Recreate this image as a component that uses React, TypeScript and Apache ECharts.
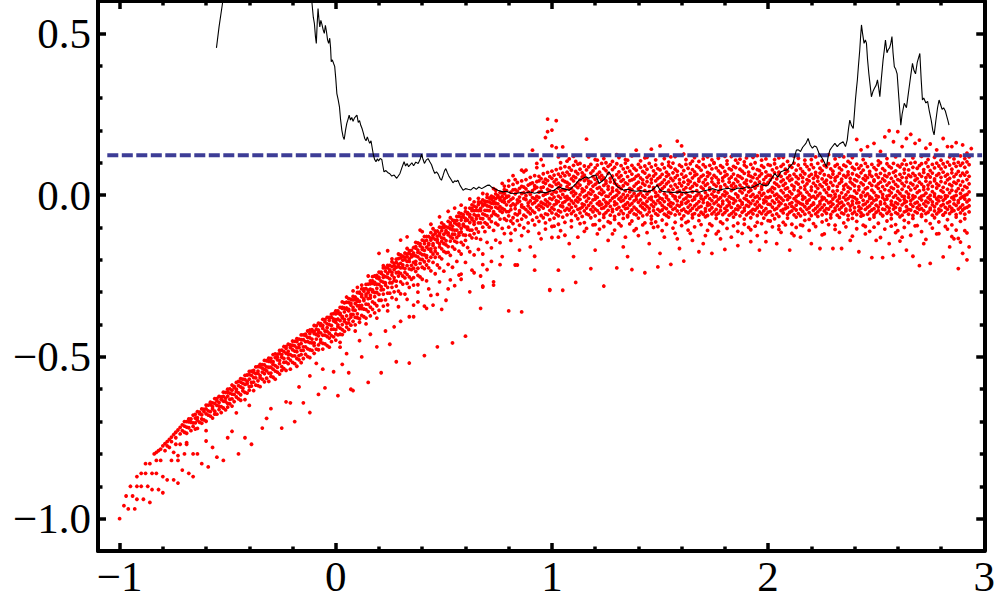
import React, { useEffect, useRef } from "react";
import * as echarts from "echarts";

// ---------- axis tick values ----------
const xMajorTicks = [-1, 0, 1, 2, 3];
const xMinorTicks = [-0.8, -0.6, -0.4, -0.2, 0.2, 0.4, 0.6, 0.8, 1.2, 1.4, 1.6, 1.8, 2.2, 2.4, 2.6, 2.8];
const yMajorTicks = [-1, -0.5, 0, 0.5];
const yMinorTicks = [-0.9, -0.8, -0.7, -0.6, -0.4, -0.3, -0.2, -0.1, 0.1, 0.2, 0.3, 0.4];

// ---------- reference level (dashed line) ----------
const refLevelX = [-1.057, 2.99];
const refLevelY = 0.123;

// ---------- red scatter ----------
// Columns: first entry = x * 100, following entries = y * 1000
const armColumns: number[][] = [
  [-70, -700, -714, -733], [-69, -700, -717, -736, -765], [-68, -692, -701, -719], [-67, -692, -702, -728],
  [-66, -680, -704, -715], [-65, -678, -689, -704, -723], [-64, -669, -688, -696, -721], [-63, -671, -676, -702],
  [-62, -661, -679, -692, -705], [-61, -662, -669, -695], [-60, -649, -661, -676, -699, -728], [-59, -649, -667, -680],
  [-58, -640, -648, -669, -683], [-57, -642, -654, -661, -689], [-56, -629, -644, -668, -677], [-55, -629, -636, -650, -677],
  [-54, -622, -641, -652, -663], [-53, -624, -631, -654, -672], [-52, -609, -622, -637, -658], [-51, -610, -628, -638, -664],
  [-50, -600, -609, -621, -644, -655], [-49, -599, -612, -631, -645], [-48, -587, -603, -615, -630, -652], [-47, -591, -595, -616, -638],
  [-46, -579, -600, -607, -624, -673], [-45, -576, -589, -611, -630], [-44, -567, -578, -593, -617, -634], [-43, -569, -582, -597, -605],
  [-42, -557, -570, -585, -610, -632], [-41, -556, -576, -583, -612], [-40, -545, -555, -569, -592, -603, -650], [-39, -544, -557, -579, -590],
  [-38, -542, -548, -564, -578, -604], [-37, -531, -552, -565, -587], [-36, -530, -544, -551, -574, -589], [-35, -523, -531, -558, -565, -592],
  [-34, -524, -535, -547, -569], [-33, -511, -525, -539, -552, -577], [-32, -512, -531, -543, -566], [-31, -504, -514, -532, -550, -576],
  [-30, -505, -515, -532, -550, -560], [-29, -493, -515, -523, -538, -563], [-28, -491, -502, -527, -544, -569], [-27, -492, -501, -509, -532, -547],
  [-26, -480, -490, -511, -521, -553], [-25, -479, -493, -501, -530, -542], [-24, -468, -484, -505, -517, -536], [-23, -468, -474, -489, -516, -542],
  [-22, -461, -483, -492, -504, -521], [-21, -463, -471, -493, -510, -538], [-20, -451, -464, -478, -497, -517], [-19, -452, -466, -482, -497, -521],
  [-18, -444, -453, -472, -484, -505, -529], [-17, -445, -462, -471, -496, -509], [-16, -432, -447, -459, -480, -493, -518], [-15, -432, -447, -469, -480, -505],
  [-14, -430, -434, -453, -469, -492], [-13, -420, -440, -453, -475, -499], [-12, -417, -428, -441, -456, -478, -502], [-11, -416, -420, -445, -457, -480],
  [-10, -403, -422, -428, -457, -465, -489], [-9, -404, -415, -431, -445, -476], [-8, -396, -417, -424, -435, -463, -478], [-7, -397, -403, -426, -447, -455],
  [-6, -384, -403, -412, -433, -458, -476], [-5, -385, -392, -420, -433, -460], [-4, -378, -398, -410, -421, -437, -465], [-3, -378, -387, -400, -427, -442],
  [-2, -368, -378, -403, -415, -434, -453], [-1, -366, -383, -389, -414, -438],
];

const riseColumns: number[][] = [
  [0, -358, -367, -385, -393, -416, -429, -448], [1, -358, -365, -383, -401, -407, -432], [2, -347, -365, -369, -388, -411, -430],
  [3, -347, -350, -375, -379, -400, -416, -431], [4, -333, -349, -361, -384, -390, -421], [5, -331, -349, -352, -373, -396, -408],
  [6, -320, -332, -353, -358, -384, -395, -415], [7, -322, -334, -340, -369, -377, -402], [8, -313, -324, -347, -355, -369, -390],
  [9, -315, -323, -335, -356, -378, -401], [10, -301, -322, -328, -342, -367, -379], [11, -300, -303, -328, -342, -351, -382, -393],
  [12, -290, -308, -314, -341, -351, -372], [13, -290, -297, -321, -326, -352, -376], [14, -276, -289, -306, -312, -337, -354, -380],
  [15, -275, -294, -301, -320, -338, -360], [16, -265, -274, -291, -310, -318, -346, -373], [17, -265, -273, -293, -299, -330, -353],
  [18, -250, -270, -275, -301, -314, -335, -364], [19, -248, -256, -275, -288, -301, -342], [20, -238, -254, -259, -276, -307, -325, -356],
  [21, -238, -242, -266, -283, -293, -325], [22, -225, -248, -254, -269, -292, -306, -343], [23, -225, -235, -252, -271, -278, -324],
  [24, -217, -225, -242, -254, -285, -303, -339], [25, -217, -231, -235, -259, -271, -303], [26, -206, -221, -239, -247, -271, -285, -317],
  [27, -211, -219, -230, -255, -264, -299], [28, -198, -208, -223, -240, -266, -281, -322], [29, -196, -214, -221, -238, -250, -297],
  [30, -185, -194, -211, -225, -242, -268, -305], [31, -189, -201, -216, -224, -250, -275], [32, -179, -192, -199, -227, -239, -256, -306],
  [33, -182, -190, -205, -218, -245, -273], [34, -172, -180, -197, -205, -228, -253, -285], [35, -171, -185, -191, -217, -230, -260],
  [36, -162, -179, -187, -208, -226, -255, -278], [37, -159, -164, -188, -205, -214, -236], [38, -148, -170, -177, -191, -226, -248, -277],
  [39, -150, -157, -179, -198, -211, -253], [40, -139, -162, -168, -184, -199, -223, -260], [41, -142, -150, -171, -185, -206, -227],
  [42, -128, -140, -161, -187, -193, -216, -265], [43, -128, -149, -154, -167, -203, -225], [44, -116, -133, -139, -166, -174, -192, -234],
  [45, -124, -132, -150, -156, -182, -208], [46, -111, -119, -137, -164, -173, -192, -243], [47, -111, -127, -138, -145, -181, -216],
  [48, -99, -118, -125, -151, -160, -191, -225], [49, -100, -110, -132, -143, -166, -197], [50, -92, -100, -121, -134, -150, -174, -235],
  [51, -98, -110, -115, -141, -154, -178], [52, -81, -100, -117, -123, -159, -177, -214], [53, -86, -92, -104, -129, -142, -186],
  [54, -77, -96, -107, -121, -133, -160, -223], [55, -79, -86, -108, -121, -142, -167], [56, -66, -78, -90, -108, -131, -146, -205],
  [57, -66, -89, -95, -117, -124, -173], [58, -57, -68, -77, -103, -114, -146, -182], [59, -60, -68, -90, -95, -123, -154],
  [60, -51, -72, -79, -98, -124, -140, -208], [61, -54, -58, -77, -99, -106, -162], [62, -40, -60, -67, -85, -108, -124, -175],
  [63, -42, -48, -71, -76, -108, -132], [64, -34, -48, -60, -82, -90, -119, -185], [65, -37, -47, -64, -73, -104, -133],
  [66, -21, -29, -48, -63, -86, -114, -168], [67, -22, -41, -48, -72, -86, -137], [68, -15, -27, -33, -58, -73, -99, -182],
  [69, -19, -29, -47, -61, -85, -113], [70, -7, -20, -33, -47, -64, -90, -146], [71, -9, -21, -35, -48, -73, -99],
  [72, -3, -12, -25, -39, -64, -82, -163], [73, -6, -19, -26, -51, -56, -109], [74, 4, -11, -25, -37, -60, -87, -139],
  [75, -2, -6, -27, -41, -64, -92], [76, 8, -9, -15, -36, -49, -74, -147], [77, 7, -4, -19, -41, -53, -103],
  [78, 17, 5, -12, -22, -45, -73, -119], [79, 14, -3, -7, -30, -51, -78],
];

const plateauColumns: number[][] = [
  [80, 28, -3, -20, -51, -64, -99], [81, 9, -14, -33, -45, -80, -118], [82, 33, 16, -9, -27, -70, -88], [83, 17, 4, -31, -42, -58, -107],
  [84, 39, 12, -15, -24, -61, -79], [85, 21, -6, -19, -48, -55, -93], [86, 44, 27, 5, -30, -36, -74], [87, 25, 8, -11, -39, -62, -101],
  [88, 48, 19, -2, -14, -45, -67], [89, 31, 10, -24, -33, -52, -86], [90, 55, 35, 2, -18, -41, -58], [91, 38, 14, -8, -27, -49, -77],
  [92, 60, 29, 20, -11, -23, -54, -92], [93, 42, 24, -4, -16, -37, -69], [94, 58, 44, 9, -7, -31, -45, -81], [95, 51, 23, 12, -22, -35, -63],
  [96, 66, 40, 25, -1, -26, -40, -70], [97, 49, 36, 3, -15, -29, -58, -86], [98, 70, 45, 18, 6, -21, -34, -60], [99, 57, 30, 14, -10, -27, -47, -76],
  [100, 74, 52, 27, 3, -13, -39, -55, -97], [101, 62, 41, 11, -6, -30, -44, -71], [102, 79, 48, 33, 9, -17, -26, -59], [103, 65, 37, 22, -3, -20, -48, -64, -90],
  [104, 83, 57, 30, 13, -9, -33, -52], [105, 68, 46, 17, 2, -24, -36, -68], [106, 88, 60, 42, 15, -6, -20, -47, -84], [107, 71, 39, 26, -4, -14, -41, -61],
  [108, 85, 63, 34, 19, -11, -29, -46], [109, 77, 50, 21, 8, -18, -38, -57, -79], [110, 92, 58, 44, 12, -2, -25, -50], [111, 73, 54, 29, 5, -16, -34, -63],
  [112, 96, 66, 38, 23, -8, -21, -44, -73], [113, 80, 47, 31, 1, -13, -42, -55], [114, 69, 56, 19, 10, -27, -37, -66], [115, 90, 62, 45, 14, -5, -30, -49, -85],
  [116, 78, 51, 25, -1, -19, -40, -58], [117, 87, 43, 35, 7, -10, -32, -61], [118, 95, 68, 40, 17, 3, -24, -45, -70], [119, 75, 57, 28, 11, -15, -36, -52],
  [120, 84, 49, 33, -2, -12, -43, -64, -91], [121, 93, 64, 39, 21, -7, -26, -48], [122, 71, 55, 24, 6, -20, -31, -56, -78], [123, 98, 61, 47, 16, 2, -28, -41],
  [124, 82, 53, 30, 9, -14, -39, -60, -69], [125, 76, 44, 36, -3, -22, -33, -54], [126, 89, 67, 27, 18, -4, -25, -47, -82], [127, 94, 52, 41, 4, -17, -35, -62],
  [128, 79, 59, 22, 12, -9, -44, -51], [129, 86, 46, 37, -5, -21, -30, -66, -75], [130, 97, 63, 32, 15, 0, -27, -43], [131, 72, 54, 26, 8, -12, -38, -59, -88],
  [132, 91, 60, 43, 20, -6, -19, -49], [133, 81, 48, 29, 2, -16, -34, -57, -72], [134, 99, 70, 38, 13, -8, -29, -42], [135, 85, 57, 34, -1, -23, -40, -63, -67],
  [136, 74, 45, 21, 10, -11, -31, -53], [137, 92, 65, 47, 17, -3, -26, -46, -80], [138, 83, 50, 28, 5, -18, -37, -58], [139, 77, 58, 35, -4, -13, -43, -61],
  [140, 95, 62, 40, 19, 1, -22, -50, -71], [141, 86, 53, 24, 7, -15, -33, -55], [142, 73, 47, 36, -2, -25, -39, -64], [143, 90, 68, 31, 14, -7, -28, -45, -86],
  [144, 80, 55, 42, 3, -19, -35, -60], [145, 98, 61, 27, 11, -10, -41, -52], [146, 87, 49, 38, -6, -14, -30, -65, -74], [147, 75, 59, 23, 16, -21, -36, -48],
  [148, 93, 66, 44, 8, -4, -27, -57, -83], [149, 82, 51, 30, -1, -17, -44, -62], [150, 78, 56, 33, 12, -9, -24, -50], [151, 96, 64, 39, 20, -12, -32, -46, -77],
  [152, 84, 47, 26, 4, -20, -38, -59], [153, 71, 58, 35, -3, -8, -42, -63], [154, 91, 63, 41, 15, -15, -29, -53, -68], [155, 86, 52, 28, 6, -23, -35, -56],
  [156, 99, 69, 45, 18, -2, -26, -44], [157, 80, 54, 32, -5, -11, -40, -61, -84], [158, 74, 61, 24, 9, -18, -31, -49], [159, 93, 48, 37, 13, -6, -34, -58],
  [160, 88, 65, 29, 2, -22, -28, -47, -73], [161, 76, 55, 40, 17, -13, -43, -64], [162, 95, 59, 23, 7, -9, -25, -51], [163, 83, 46, 34, -2, -19, -37, -55, -81],
  [164, 97, 67, 42, 21, -4, -30, -48], [165, 79, 53, 27, 10, -16, -41, -60, -70], [166, 72, 60, 36, -6, -12, -33, -57], [167, 90, 64, 31, 14, -1, -27, -45],
  [168, 85, 50, 43, 5, -20, -38, -62, -79], [169, 77, 57, 25, -3, -10, -35, -53], [170, 94, 62, 39, 19, -14, -23, -59], [171, 87, 48, 30, 8, -7, -42, -50, -67],
  [172, 70, 58, 35, -1, -24, -32, -63], [173, 92, 66, 22, 16, -11, -29, -46, -89], [174, 81, 52, 41, 3, -17, -39, -58], [175, 98, 61, 33, 12, -5, -26, -52],
  [176, 84, 55, 28, -4, -21, -44, -61, -72], [177, 75, 47, 38, 9, -13, -31, -56], [178, 91, 68, 26, 18, -8, -36, -48, -83], [179, 86, 53, 44, 1, -19, -27, -60],
  [180, 73, 59, 32, 11, -2, -41, -54], [181, 96, 63, 24, 6, -15, -34, -47, -76], [182, 82, 50, 40, -5, -22, -30, -62], [183, 78, 56, 29, 14, -9, -38, -57],
  [184, 89, 65, 36, 20, -12, -25, -51, -68], [185, 85, 49, 27, 4, -18, -43, -59], [186, 99, 60, 42, -2, -6, -33, -45, -87], [187, 80, 57, 31, 13, -16, -37, -64],
  [188, 74, 52, 23, 7, -23, -28, -53], [189, 93, 67, 38, 17, -10, -40, -48, -74], [190, 87, 46, 34, -1, -14, -32, -61], [191, 71, 61, 25, 10, -20, -35, -55],
  [192, 95, 58, 43, 15, -4, -26, -50, -70], [193, 83, 54, 28, 2, -17, -44, -58], [194, 100, 64, 37, 22, -7, -29, -46], [195, 79, 51, 30, -3, -21, -39, -63, -84],
  [196, 76, 59, 41, 8, -11, -31, -52], [197, 91, 66, 26, 18, -1, -37, -57], [198, 86, 48, 35, 5, -15, -24, -49, -71], [199, 72, 56, 32, -6, -19, -42, -60],
  [200, 94, 62, 39, 12, -8, -28, -53, -79],
];

const tailColumns: number[][] = [
  [201, 92, 61, 47, 16, -5, -29, -51, -80], [202, 78, 55, 24, 9, -18, -37, -62], [203, 97, 69, 38, 20, -1, -24, -45, -73], [204, 84, 50, 33, 3, -12, -41, -58],
  [205, 71, 63, 27, -4, -21, -33, -66, -95], [206, 89, 58, 42, 14, -9, -26, -48], [207, 95, 47, 30, 7, -16, -44, -55, -84], [208, 80, 67, 36, 19, -3, -30, -42],
  [209, 74, 53, 22, -2, -14, -38, -60, -71], [210, 91, 60, 45, 11, -7, -27, -53], [211, 86, 49, 31, 4, -23, -35, -49, -90], [212, 99, 65, 26, 17, -11, -40, -61],
  [213, 77, 57, 39, -5, -18, -31, -46, -68], [214, 93, 51, 34, 13, 0, -22, -57], [215, 82, 62, 23, 6, -26, -43, -64, -92], [216, 73, 54, 41, -3, -13, -29, -50],
  [217, 96, 66, 28, 18, -8, -36, -59, -78], [218, 88, 48, 35, 9, -19, -25, -44], [219, 79, 59, 44, 1, -15, -39, -54, -75], [220, 94, 64, 25, 15, -6, -32, -63],
  [221, 85, 52, 37, -4, -24, -28, -47, -88], [222, 70, 61, 29, 10, -10, -41, -58], [223, 98, 56, 43, 21, -2, -34, -52, -66], [224, 83, 68, 32, 5, -20, -27, -45],
  [225, 76, 50, 26, -6, -14, -38, -61, -83], [226, 92, 63, 40, 16, -9, -30, -49], [227, 87, 46, 34, 8, -17, -42, -56, -77], [228, 97, 60, 24, 19, -1, -24, -43],
  [229, 81, 55, 39, -2, -21, -35, -60, -70], [230, 74, 65, 30, 12, -12, -28, -51], [231, 90, 53, 45, 3, -5, -40, -47, -93], [232, 95, 58, 27, 14, -18, -33, -62],
  [233, 84, 67, 36, -3, -10, -25, -44, -69], [234, 78, 49, 42, 7, -22, -37, -55], [235, 93, 61, 28, 18, -7, -31, -58, -86], [236, 89, 56, 33, 1, -15, -43, -49],
  [237, 72, 63, 25, 10, -11, -26, -63, -76], [238, 99, 52, 41, 20, -4, -34, -46], [239, 86, 66, 35, -5, -19, -29, -57, -72], [240, 80, 48, 29, 13, -8, -39, -52],
  [241, 96, 62, 44, 6, -13, -24, -60, -81], [242, 83, 57, 26, 16, -23, -36, -48], [243, 91, 69, 38, -1, -6, -41, -55, -65], [244, 77, 51, 32, 9, -16, -30, -62],
  [245, 98, 60, 46, 19, -2, -27, -44, -97], [246, 88, 54, 23, 4, -20, -38, -59], [247, 73, 64, 37, -4, -11, -33, -51, -74], [248, 95, 58, 30, 15, -9, -25, -46],
  [249, 85, 47, 43, 8, -17, -42, -61, -68], [250, 79, 63, 28, -2, -14, -31, -53], [251, 93, 55, 35, 21, -5, -37, -48, -87], [252, 100, 67, 40, 11, -21, -28, -57],
  [253, 82, 50, 26, 2, -8, -43, -63, -64], [254, 76, 61, 44, 17, -15, -26, -45], [255, 97, 57, 31, -3, -12, -35, -56, -80], [256, 89, 66, 38, 14, -1, -40, -50],
  [257, 84, 52, 24, 7, -19, -29, -60, -73], [258, 98, 70, 42, 20, -6, -32, -43], [259, 75, 59, 33, -1, -23, -38, -54, -91], [260, 92, 48, 27, 12, -10, -27, -58],
  [261, 87, 64, 45, 5, -16, -41, -47, -67], [262, 96, 55, 36, 18, -3, -30, -62], [263, 80, 68, 29, -4, -13, -24, -52, -78], [264, 94, 53, 41, 10, -20, -36, -49],
  [265, 78, 62, 25, 3, -7, -44, -59, -85], [266, 99, 57, 37, 16, -17, -28, -46], [267, 86, 67, 32, -2, -11, -35, -63, -72], [268, 101, 60, 46, 21, -5, -25, -51],
  [269, 83, 51, 28, 8, -22, -39, -55, -94], [270, 91, 65, 40, 13, -9, -31, -44], [271, 97, 58, 34, -3, -15, -42, -60, -66], [272, 79, 70, 26, 17, -1, -27, -48],
  [273, 100, 54, 43, 6, -19, -34, -57, -79], [274, 88, 63, 31, 19, -8, -23, -53], [275, 76, 56, 39, -1, -13, -40, -45, -88], [276, 95, 68, 27, 11, -21, -30, -62],
  [277, 84, 50, 44, 4, -4, -36, -49, -70], [278, 99, 61, 35, 22, -12, -26, -58], [279, 90, 66, 30, -5, -18, -43, -52, -83], [280, 81, 55, 42, 14, -6, -33, -47],
  [281, 97, 71, 24, 9, -16, -29, -61, -62], [282, 87, 59, 38, -2, -10, -38, -54], [283, 102, 64, 47, 18, -3, -24, -44, -76], [284, 93, 52, 33, 7, -20, -35, -57],
  [285, 80, 69, 29, 15, -8, -41, -50, -92], [286, 98, 57, 40, -4, -14, -27, -48], [287, 89, 65, 36, 12, -1, -32, -60, -68], [288, 101, 73, 45, 20, -17, -23, -43],
  [289, 92, 60, 31, 5, -9, -37, -55, -81], [290, 99, 68, 42, 16, -5, -30, -46], [291, 86, 62, 27, -1, -12, -40, -59, -73], [292, 103, 71, 48, 23, 2, -21, -38],
  [293, 94, 58, 35, 10, -15, -33, -52],
];

// Individual points: [x * 100, y * 1000]
const armRowPoints: number[][] = [
  [-100, -1000], [-98, -960], [-96, -970], [-93, -970], [-97, -930], [-94, -930], [-92, -940], [-89, -940], [-86, -950],
  [-95, -900], [-92, -900], [-90, -900], [-87, -900], [-85, -910], [-82, -910], [-80, -920],
  [-92, -870], [-90, -860], [-88, -860], [-85, -860], [-83, -860], [-80, -870], [-78, -880], [-75, -880], [-73, -890],
  [-88, -830], [-86, -830], [-83, -820], [-81, -820], [-76, -820], [-73, -820], [-71, -850], [-68, -860], [-66, -870],
  [-84, -800], [-82, -790], [-79, -790], [-77, -780], [-74, -770], [-72, -770], [-69, -770], [-66, -800], [-64, -800], [-62, -830], [-59, -840],
  [-80, -775], [-79, -768], [-78, -762], [-77, -755], [-76, -748], [-75, -740], [-74, -733], [-73, -726], [-72, -718], [-71, -710],
  [-78, -775], [-76, -762], [-74, -750], [-72, -738], [-71, -728], [-75, -795], [-73, -805], [-70, -800], [-81, -785], [-83, -795],
];

const strayLower: number[][] = [
  [-60, -760], [-57, -780], [-55, -810], [-52, -820], [-50, -750], [-48, -730], [-45, -800], [-42, -750], [-39, -770], [-34, -720],
  [-32, -690], [-30, -660], [-25, -720], [-23, -639], [-21, -642], [-19, -700], [-17, -593], [-15, -642], [-12, -672], [-12, -559],
  [-8, -616], [-6, -538], [-5, -596], [-1, -546], [1, -620], [3, -523], [5, -490], [6, -549], [8, -604], [12, -500], [15, -579],
  [19, -469], [21, -549], [25, -461], [27, -407], [28, -515], [34, -519], [34, -376], [36, -376], [41, -496], [41, -343], [45, -340],
  [47, -469], [49, -353], [51, -325], [54, -457], [60, -436], [62, -299], [67, -350], [68, -284], [73, -268], [80, -358], [86, -361],
  [92, -232], [99, -294], [103, -232], [83, -216], [92, -189], [42, -350], [36, -340], [47, -307], [55, -280], [57, -247], [67, -250],
  [68, -281], [73, -278], [100, -131], [103, -130], [11, -450], [7, -600], [-3, -470], [-9, -520], [2, -470], [16, -430], [23, -420],
  [30, -390], [38, -330], [44, -310], [52, -290], [58, -260], [64, -240], [70, -230], [76, -215],
  [2, -455], [9, -420], [14, -398], [19, -380], [24, -358], [29, -345], [33, -322], [38, -300], [43, -290], [48, -268], [53, -262],
  [58, -244], [63, -232], [68, -215], [72, -205], [77, -190],
  [84, -216], [99, -292], [105, -294], [111, -270], [118, -227], [124, -281], [130, -225], [137, -230], [143, -240], [149, -222],
  [155, -214], [159, -165], [161, -204], [168, -175], [174, -180], [180, -168], [186, -156], [192, -144], [199, -144], [85, -170],
  [90, -160], [95, -135], [108, -150], [112, -130], [120, -170], [126, -140], [133, -160], [140, -125], [145, -150], [152, -130],
  [157, -118], [165, -140], [171, -125], [177, -112], [183, -130], [188, -118], [195, -125], [110, -190], [135, -190], [150, -180],
  [115, -112], [128, -120], [170, -150], [196, -170], [122, -105], [138, -110], [147, -100], [163, -108], [178, -135], [191, -100],
  [81, -140], [86, -125], [89, -112], [94, -118], [97, -105], [101, -96], [104, -110], [106, -124], [109, -98], [113, -88],
  [116, -103], [119, -92], [121, -120], [124, -97], [127, -86], [129, -108], [132, -95], [134, -130], [136, -89], [139, -104],
  [142, -92], [144, -116], [146, -87], [149, -97], [151, -110], [153, -90], [156, -102], [158, -135], [160, -94], [162, -85],
  [164, -118], [166, -98], [169, -91], [172, -109], [174, -94], [176, -120], [179, -88], [181, -103], [184, -95], [186, -112],
  [189, -90], [192, -107], [194, -96], [197, -88], [199, -115],
  [204, -150], [210, -170], [215, -130], [220, -150], [224, -165], [230, -165], [234, -165], [238, -140], [242, -175], [245, -120],
  [248, -193], [253, -193], [256, -150], [258, -186], [262, -130], [264, -170], [267, -189], [270, -218], [272, -150], [275, -211],
  [278, -120], [281, -191], [284, -160], [286, -135], [288, -227], [288, -134], [290, -180], [291, -110], [293, -160], [292, -200],
  [226, -120], [250, -140], [260, -110], [283, -105], [206, -115], [212, -125],
  [202, -98], [205, -106], [208, -92], [211, -118], [213, -100], [216, -94], [219, -109], [222, -97], [225, -123], [228, -91],
  [231, -106], [233, -115], [236, -98], [239, -127], [241, -104], [244, -93], [247, -112], [249, -99], [252, -131], [254, -105],
  [257, -96], [259, -116], [261, -142], [263, -100], [266, -124], [268, -95], [271, -113], [273, -137], [276, -102], [279, -119],
  [282, -97], [285, -128], [287, -108], [289, -145], [292, -117],
];

const strayUpper: number[][] = [
  [20, -180], [24, -172], [30, -139], [33, -129], [39, -108], [40, -113], [44, -90], [48, -67], [52, -50], [55, -40], [58, -31],
  [62, -12], [64, -21], [68, 5], [73, 20], [77, 36], [80, 45], [83, 48], [86, 77], [88, 77], [91, 139], [93, 98], [95, 110],
  [97, 178], [98, 196], [98, 235], [100, 201], [100, 152], [102, 230], [102, 147], [103, 118], [105, 149], [107, 105], [110, 120],
  [113, 98], [116, 173], [120, 110], [125, 100], [130, 125], [135, 108], [139, 139], [143, 115], [146, 142], [150, 152], [155, 118],
  [158, 167], [160, 152], [161, 127], [165, 105], [170, 112], [175, 100], [180, 120], [185, 108], [190, 115], [195, 122], [15, -250],
  [10, -285], [5, -315],
  [3, -330], [8, -296], [12, -278], [17, -252], [22, -218], [26, -197], [29, -182], [33, -165], [37, -146], [41, -128], [45, -104],
  [49, -86], [53, -70], [57, -55], [60, -40], [63, -30], [66, -10], [70, 2], [74, 15], [78, 28],
  [82, 60], [87, 72], [93, 85], [96, 92], [104, 100], [108, 112], [111, 104], [117, 118], [121, 108], [124, 113], [128, 104],
  [131, 116], [134, 110], [137, 121], [141, 106], [144, 117], [148, 109], [152, 113], [154, 102], [157, 119], [162, 110], [166, 116],
  [168, 104], [172, 118], [174, 109], [177, 114], [181, 106], [183, 119], [187, 111], [189, 103], [193, 117], [197, 108], [199, 112],
  [203, 110], [207, 117], [209, 104], [214, 114], [217, 108], [222, 118], [225, 106], [231, 112], [233, 120], [237, 104], [239, 116],
  [244, 110], [247, 121], [251, 106], [255, 113], [259, 118], [263, 108], [267, 115], [271, 120], [274, 110], [277, 117], [280, 108],
  [284, 118], [286, 112], [289, 121], [291, 113], [293, 118],
  [205, 115], [212, 120], [220, 110], [228, 125], [235, 118], [241, 172], [243, 140], [246, 150], [249, 160], [252, 135], [254, 180],
  [256, 199], [258, 165], [260, 196], [262, 150], [264, 175], [266, 188], [268, 160], [270, 170], [273, 145], [275, 158], [278, 140],
  [281, 175], [283, 150], [285, 150], [287, 162], [290, 155], [292, 130], [294, 144],
];

// ---------- black path ----------
const pathPoints: number[][] = [
  [-0.552, 0.455], [-0.54, 0.52], [-0.524, 0.593], [-0.5, 0.72], [-0.4, 0.85], [-0.25, 0.8], [-0.15, 0.7], [-0.115, 0.62],
  [-0.11, 0.593], [-0.104, 0.55], [-0.099, 0.531], [-0.094, 0.49], [-0.09, 0.469], [-0.086, 0.53], [-0.082, 0.577], [-0.078, 0.545],
  [-0.074, 0.52], [-0.069, 0.54], [-0.064, 0.528], [-0.058, 0.51], [-0.053, 0.5], [-0.048, 0.525], [-0.043, 0.505], [-0.038, 0.48],
  [-0.033, 0.469], [-0.028, 0.485], [-0.024, 0.455], [-0.021, 0.412], [-0.016, 0.418], [-0.01, 0.407], [-0.005, 0.398], [0.0, 0.36],
  [0.005, 0.314], [0.011, 0.295], [0.017, 0.273], [0.022, 0.235], [0.028, 0.201], [0.034, 0.18], [0.039, 0.172], [0.045, 0.2],
  [0.051, 0.222], [0.057, 0.235], [0.062, 0.247], [0.068, 0.232], [0.074, 0.24], [0.08, 0.228], [0.086, 0.238], [0.092, 0.243],
  [0.098, 0.247], [0.104, 0.225], [0.11, 0.23], [0.116, 0.215], [0.122, 0.205], [0.128, 0.191], [0.134, 0.175], [0.14, 0.168],
  [0.146, 0.18], [0.151, 0.17], [0.157, 0.16], [0.163, 0.168], [0.168, 0.148], [0.174, 0.124], [0.18, 0.11], [0.186, 0.103],
  [0.192, 0.112], [0.198, 0.106], [0.205, 0.113], [0.213, 0.11], [0.218, 0.09], [0.223, 0.072], [0.232, 0.076], [0.24, 0.07],
  [0.25, 0.066], [0.259, 0.059], [0.27, 0.062], [0.282, 0.052], [0.29, 0.06], [0.297, 0.067], [0.306, 0.085], [0.316, 0.103],
  [0.323, 0.09], [0.33, 0.098], [0.337, 0.088], [0.343, 0.093], [0.352, 0.1], [0.36, 0.091], [0.37, 0.102], [0.381, 0.098],
  [0.39, 0.11], [0.397, 0.127], [0.404, 0.11], [0.41, 0.098], [0.418, 0.108], [0.427, 0.113], [0.435, 0.103], [0.443, 0.094],
  [0.45, 0.08], [0.458, 0.067], [0.466, 0.072], [0.474, 0.065], [0.482, 0.052], [0.489, 0.046], [0.496, 0.06], [0.503, 0.075],
  [0.509, 0.082], [0.516, 0.07], [0.524, 0.058], [0.532, 0.05], [0.542, 0.038], [0.55, 0.044], [0.558, 0.042], [0.565, 0.046],
  [0.575, 0.03], [0.589, 0.015], [0.6, 0.02], [0.612, 0.018], [0.625, 0.016], [0.638, 0.024], [0.65, 0.018], [0.662, 0.025],
  [0.675, 0.02], [0.69, 0.026], [0.7, 0.03], [0.711, 0.031], [0.722, 0.024], [0.735, 0.02], [0.75, 0.015], [0.773, 0.01],
  [0.79, 0.012], [0.81, 0.006], [0.834, 0.005], [0.855, 0.008], [0.875, 0.006], [0.896, 0.01], [0.92, 0.006], [0.945, 0.01],
  [0.973, 0.007], [0.99, 0.012], [1.01, 0.015], [1.033, 0.026], [1.05, 0.02], [1.07, 0.017], [1.08, 0.015], [1.095, 0.025],
  [1.11, 0.035], [1.125, 0.046], [1.14, 0.05], [1.157, 0.057], [1.17, 0.052], [1.185, 0.058], [1.202, 0.062], [1.21, 0.05],
  [1.218, 0.036], [1.23, 0.042], [1.245, 0.05], [1.255, 0.062], [1.264, 0.072], [1.275, 0.06], [1.29, 0.04], [1.303, 0.026],
  [1.318, 0.02], [1.333, 0.015], [1.35, 0.018], [1.37, 0.014], [1.39, 0.012], [1.41, 0.014], [1.44, 0.01], [1.46, 0.014],
  [1.475, 0.022], [1.487, 0.031], [1.498, 0.018], [1.51, 0.012], [1.53, 0.01], [1.56, 0.008], [1.59, 0.01], [1.617, 0.007],
  [1.64, 0.01], [1.66, 0.012], [1.68, 0.009], [1.7, 0.013], [1.72, 0.016], [1.745, 0.02], [1.77, 0.014], [1.79, 0.018],
  [1.816, 0.021], [1.84, 0.016], [1.86, 0.022], [1.88, 0.02], [1.9, 0.026], [1.92, 0.022], [1.94, 0.028], [1.962, 0.036],
  [1.98, 0.03], [2.0, 0.031], [2.015, 0.05], [2.031, 0.067], [2.045, 0.055], [2.06, 0.072], [2.077, 0.077], [2.09, 0.078],
  [2.1, 0.088], [2.115, 0.098], [2.125, 0.125], [2.131, 0.139], [2.14, 0.14], [2.15, 0.135], [2.16, 0.148], [2.175, 0.16],
  [2.185, 0.175], [2.195, 0.155], [2.205, 0.145], [2.215, 0.152], [2.224, 0.149], [2.235, 0.13], [2.247, 0.118], [2.258, 0.105],
  [2.27, 0.088], [2.278, 0.12], [2.286, 0.139], [2.295, 0.148], [2.309, 0.16], [2.32, 0.15], [2.33, 0.158], [2.347, 0.165],
  [2.358, 0.15], [2.366, 0.17], [2.372, 0.205], [2.378, 0.232], [2.386, 0.215], [2.394, 0.206], [2.399, 0.25], [2.404, 0.294],
  [2.409, 0.33], [2.413, 0.356], [2.418, 0.4], [2.424, 0.448], [2.428, 0.49], [2.432, 0.526], [2.437, 0.5], [2.444, 0.469],
  [2.45, 0.48], [2.455, 0.47], [2.46, 0.42], [2.466, 0.376], [2.472, 0.34], [2.478, 0.304], [2.485, 0.32], [2.492, 0.33],
  [2.5, 0.34], [2.506, 0.356], [2.512, 0.33], [2.517, 0.304], [2.524, 0.36], [2.532, 0.418], [2.538, 0.45], [2.543, 0.479],
  [2.55, 0.44], [2.556, 0.45], [2.562, 0.455], [2.568, 0.47], [2.573, 0.49], [2.578, 0.44], [2.584, 0.397], [2.59, 0.39],
  [2.597, 0.375], [2.605, 0.3], [2.614, 0.216], [2.62, 0.25], [2.63, 0.284], [2.64, 0.27], [2.646, 0.3], [2.653, 0.335],
  [2.66, 0.37], [2.668, 0.407], [2.675, 0.385], [2.682, 0.375], [2.69, 0.41], [2.702, 0.438], [2.708, 0.36], [2.714, 0.294],
  [2.72, 0.3], [2.73, 0.285], [2.738, 0.29], [2.745, 0.263], [2.755, 0.23], [2.762, 0.2], [2.768, 0.186], [2.776, 0.23],
  [2.784, 0.27], [2.791, 0.294], [2.798, 0.28], [2.805, 0.265], [2.812, 0.27], [2.82, 0.26], [2.826, 0.245], [2.832, 0.23],
  [2.837, 0.216],
];

const fromColumns = (cols: number[][]) =>
  cols.flatMap(([x, ...ys]) => ys.map((y) => [x / 100, y / 1000]));
const fromPairs = (pairs: number[][]) => pairs.map(([x, y]) => [x / 100, y / 1000]);

const FONT = "Liberation Serif";
const minusFmt = (digits: number) => (v: number) =>
  (v < 0 ? "\u2212" : "") + Math.abs(v).toFixed(digits);

export default function App() {
  const ref = useRef<HTMLDivElement>(null);
  useEffect(() => {
    if (!ref.current) return;
    const chart = echarts.init(ref.current, undefined, { renderer: "svg" });

    const scatterData = [
      ...fromColumns(armColumns),
      ...fromColumns(riseColumns),
      ...fromColumns(plateauColumns),
      ...fromColumns(tailColumns),
      ...fromPairs(armRowPoints),
      ...fromPairs(strayLower),
      ...fromPairs(strayUpper),
    ];

    const frameLine = { show: true, onZero: false, lineStyle: { color: "#000", width: 4 } };
    const noLine = { show: false, onZero: false };
    const majorTick = (vals: number[]) => ({
      show: true, inside: true, length: 8, customValues: vals,
      lineStyle: { color: "#000", width: 3.5 },
    });
    const minorTick = (vals: number[]) => ({
      show: true, inside: true, length: 4.5, customValues: vals,
      lineStyle: { color: "#000", width: 3.5 },
    });
    const xBase = { type: "value", min: -1.1, max: 3, splitLine: { show: false } };
    const yBase = { type: "value", min: -1.1, max: 0.6, splitLine: { show: false } };

    chart.setOption({
      animation: false,
      backgroundColor: "#fff",
      grid: { left: 98, right: 11, top: 1, bottom: 56 },
      xAxis: [
        {
          ...xBase, position: "bottom", axisLine: frameLine, axisTick: majorTick(xMajorTicks),
          axisLabel: {
            show: true, customValues: xMajorTicks, formatter: minusFmt(0), margin: 4,
            fontSize: 43, fontFamily: FONT, color: "#000",
          },
        },
        { ...xBase, position: "bottom", axisLine: noLine, axisTick: minorTick(xMinorTicks), axisLabel: { show: false } },
        { ...xBase, position: "top", axisLine: frameLine, axisTick: majorTick(xMajorTicks), axisLabel: { show: false } },
        { ...xBase, position: "top", axisLine: noLine, axisTick: minorTick(xMinorTicks), axisLabel: { show: false } },
      ],
      yAxis: [
        {
          ...yBase, position: "left", axisLine: frameLine, axisTick: majorTick(yMajorTicks),
          axisLabel: {
            show: true, customValues: yMajorTicks, formatter: minusFmt(1), margin: 7,
            fontSize: 43, fontFamily: FONT, color: "#000",
          },
        },
        { ...yBase, position: "left", axisLine: noLine, axisTick: minorTick(yMinorTicks), axisLabel: { show: false } },
        { ...yBase, position: "right", axisLine: frameLine, axisTick: majorTick(yMajorTicks), axisLabel: { show: false } },
        { ...yBase, position: "right", axisLine: noLine, axisTick: minorTick(yMinorTicks), axisLabel: { show: false } },
      ],
      series: [
        {
          type: "scatter", xAxisIndex: 0, yAxisIndex: 0, data: scatterData,
          symbol: "circle", symbolSize: 3.8, itemStyle: { color: "#ff0000", opacity: 1 }, silent: true,
        },
        {
          type: "line", xAxisIndex: 0, yAxisIndex: 0,
          data: refLevelX.map((x) => [x, refLevelY]),
          symbol: "none", silent: true,
          lineStyle: { color: "#3d3d96", width: 4, type: [11, 3.5] },
        },
        {
          type: "line", xAxisIndex: 0, yAxisIndex: 0, data: pathPoints,
          symbol: "none", silent: true, clip: true,
          lineStyle: { color: "#000", width: 1.1 },
        },
      ],
    });
    return () => chart.dispose();
  }, []);
  return (
    <div
      ref={ref}
      style={{ position: "fixed", left: 0, top: 0, width: 998, height: 607, background: "#fff" }}
    />
  );
}
